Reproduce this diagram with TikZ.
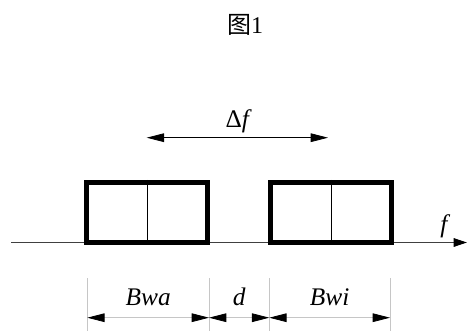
\documentclass[tikz,border=0pt]{standalone}
\usepackage{fontspec}
\setmainfont{Liberation Serif}
\newfontfamily\tms{Liberation Serif}
\newfontfamily\cjk{Noto Sans CJK SC}
\usetikzlibrary{arrows.meta}

\begin{document}
\begin{tikzpicture}[x=0.75pt,y=-0.75pt,
    font=\tms\fontsize{19}{22}\selectfont,
    band/.style={draw,line width=3.75pt,minimum width=90.75pt,minimum height=45pt,inner sep=0pt},
    dimline/.style={gray!45,line width=0.6pt},
    tip/.style={{Triangle[length=13pt,width=6.5pt,color=black]}-{Triangle[length=13pt,width=6.5pt,color=black]}}]
            \useasboundingbox (0,0) rectangle (467,331);
            \node[font=\tms\fontsize{18}{21}\selectfont] (title) at (245,25) {\cjk 图\tms 1};
            % frequency axis
            \coordinate (f0) at (11,242.5);
            \coordinate (f1) at (467,242.5);
            \draw[black!75,line width=0.6pt,-{Triangle[length=10pt,width=6.5pt,color=black]}] (f0) -- (f1);
            \node (flabel) at (444,226) {\itshape f};
            % the two bands
            \node[band] (wa) at (147.2,212.5) {};
            \node[band] (wi) at (331.3,212.5) {};
            \draw[line width=0.8pt] (wa.north) -- (wa.south);
            \draw[line width=0.8pt] (wi.north) -- (wi.south);
            % spacing between centres
            \coordinate (ca) at (146.7,137.7);
            \coordinate (cb) at (328,137.7);
            \draw[tip,line width=0.6pt] (ca) -- node[anchor=base,yshift=8pt] (df) {Δ{\itshape f}} (cb);
            % dimensions
            \foreach \n/\x in {1/87.3, 2/209, 3/269.3, 4/390}{
              \coordinate (d\n) at (\x,317.7);
              \draw[dimline] (\x,278) -- (\x,331);
            }
            \foreach \a/\b/\t in {1/2/Bwa, 2/3/d, 3/4/Bwi}
            \draw[dimline,tip] (d\a) -- node[black,above=5pt] (l\a) {\itshape\t} (d\b);
        \end{tikzpicture}
\end{document}
